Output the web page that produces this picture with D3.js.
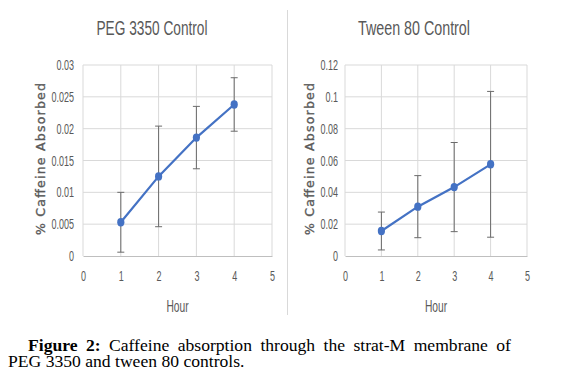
<!DOCTYPE html>
<html><head><meta charset="utf-8">
<script src="https://cdn.jsdelivr.net/npm/d3@7/dist/d3.min.js"></script>
<style>body{margin:0;background:#fff}svg{display:block}</style>
</head><body>
<svg id="c" width="569" height="384"></svg>
<script>
const hours = [1, 2, 3, 4];
const pegValues = [0.0053, 0.0125, 0.0186, 0.0238];
const pegErrors = [0.0047, 0.0079, 0.0049, 0.0042];
const tweenValues = [0.0157, 0.0310, 0.0433, 0.0576];
const tweenErrors = [0.0119, 0.0195, 0.0280, 0.0458];
const xTicks = [0, 1, 2, 3, 4, 5];
const pegYTicks = [0, 0.005, 0.01, 0.015, 0.02, 0.025, 0.03];
const pegYLabels = ["0", "0.005", "0.01", "0.015", "0.02", "0.025", "0.03"];
const tweenYTicks = [0, 0.02, 0.04, 0.06, 0.08, 0.1, 0.12];
const tweenYLabels = ["0", "0.02", "0.04", "0.06", "0.08", "0.1", "0.12"];
const titles = ["PEG 3350 Control", "Tween 80 Control"];
const xTitle = "Hour";
const yTitle = "% Caffeine Absorbed";

const svg = d3.select("#c");
const sans = "'Liberation Sans',Arial,sans-serif";
const blue = "#4472C4";
const grey = "#595959";

function condense(sel, f) {
  sel.each(function () {
    const w = this.getComputedTextLength();
    d3.select(this).attr("textLength", w * f).attr("lengthAdjust", "spacingAndGlyphs");
  });
}

function panel(cfg) {
  const x = d3.scaleLinear().domain([0, 5]).range([cfg.left, cfg.right]);
  const y = d3.scaleLinear().domain([0, cfg.ymax]).range([256, 65]);
  const g = svg.append("g");
  g.selectAll(".hg").data(cfg.yTicks.slice(1)).join("line")
    .attr("x1", cfg.left).attr("x2", cfg.right)
    .attr("y1", d => y(d)).attr("y2", d => y(d))
    .attr("stroke", "#d9d9d9").attr("stroke-width", 1);
  g.selectAll(".vg").data(xTicks).join("line")
    .attr("x1", d => x(d)).attr("x2", d => x(d))
    .attr("y1", 65).attr("y2", 256)
    .attr("stroke", "#d9d9d9").attr("stroke-width", 1);
  const xa = g.append("g").attr("transform", "translate(0,256)")
    .call(d3.axisBottom(x).tickValues(xTicks).tickSize(0).tickPadding(15).tickFormat(d3.format("d")));
  xa.select(".domain").attr("stroke", "#bfbfbf");
  xa.selectAll("text").attr("fill", grey).attr("font-size", 14.5).attr("font-family", sans);
  condense(xa.selectAll("text"), 0.62);
  const ya = g.append("g").attr("transform", `translate(${cfg.left},0)`)
    .call(d3.axisLeft(y).tickValues(cfg.yTicks).tickSize(0).tickPadding(cfg.pad).tickFormat((d, i) => cfg.yLabels[i]));
  ya.select(".domain").remove();
  ya.selectAll("text").attr("fill", grey).attr("font-size", 14.5).attr("font-family", sans);
  condense(ya.selectAll("text"), 0.62);
  const eb = g.selectAll(".eb").data(cfg.values.map((v, i) => ({h: hours[i], v, e: cfg.errors[i]}))).join("g");
  eb.append("line").attr("x1", d => x(d.h)).attr("x2", d => x(d.h))
    .attr("y1", d => y(d.v + d.e)).attr("y2", d => y(d.v - d.e))
    .attr("stroke", "#6b6b6b").attr("stroke-width", 1);
  [1, -1].forEach(s => {
    eb.append("line").attr("x1", d => x(d.h) - 3.5).attr("x2", d => x(d.h) + 3.5)
      .attr("y1", d => y(d.v + s * d.e)).attr("y2", d => y(d.v + s * d.e))
      .attr("stroke", "#6b6b6b").attr("stroke-width", 1);
  });
  g.append("path").datum(cfg.values)
    .attr("d", d3.line().x((d, i) => x(hours[i])).y(d => y(d)))
    .attr("fill", "none").attr("stroke", blue).attr("stroke-width", 2.2);
  g.selectAll(".pt").data(cfg.values).join("ellipse")
    .attr("cx", (d, i) => x(hours[i])).attr("cy", d => y(d))
    .attr("rx", 3.6).attr("ry", 4.2).attr("fill", blue);
  g.append("text").attr("x", cfg.titleX).attr("y", 35).attr("text-anchor", "middle")
    .attr("font-family", sans).attr("font-size", 20).attr("fill", grey)
    .attr("textLength", cfg.titleLen).attr("lengthAdjust", "spacingAndGlyphs").text(cfg.title);
  const ht = g.append("text").attr("x", (cfg.left + cfg.right) / 2).attr("y", 311.5).attr("text-anchor", "middle")
    .attr("font-family", sans).attr("font-size", 16).attr("fill", grey).text(xTitle);
  condense(ht, 0.64);
  g.append("text").attr("transform", `translate(${cfg.yTitleX},159) rotate(-90)`).attr("text-anchor", "middle")
    .attr("font-family", "'DejaVu Sans',sans-serif").attr("font-size", 12.5)
    .attr("fill", grey).attr("stroke", grey).attr("stroke-width", 0.35)
    .attr("textLength", 152).attr("lengthAdjust", "spacing").text(yTitle);
}

panel({left: 83, right: 272, ymax: 0.03, yTicks: pegYTicks, yLabels: pegYLabels, pad: 9,
  values: pegValues, errors: pegErrors, title: titles[0], titleX: 152, titleLen: 111, yTitleX: 45});
panel({left: 345, right: 527, ymax: 0.12, yTicks: tweenYTicks, yLabels: tweenYLabels, pad: 7,
  values: tweenValues, errors: tweenErrors, title: titles[1], titleX: 414, titleLen: 112, yTitleX: 314});

svg.append("line").attr("x1", 287.5).attr("x2", 287.5).attr("y1", 10).attr("y2", 315)
  .attr("stroke", "#d9d9d9").attr("stroke-width", 1);

// caption, first line justified via word-spacing
const capFont = "'Liberation Serif','Times New Roman',serif";
const c1 = svg.append("text").attr("x", 28).attr("y", 351).attr("font-family", capFont)
  .attr("font-size", 17.6).attr("fill", "#000");
c1.append("tspan").attr("font-weight", "bold").text("Figure 2:");
c1.append("tspan").text(" Caffeine absorption through the strat-M membrane of");
const natural = c1.node().getComputedTextLength();
c1.attr("word-spacing", (511 - 28 - natural) / 8);
svg.append("text").attr("x", 8).attr("y", 366.5).attr("font-family", capFont).attr("font-size", 17.6)
  .attr("fill", "#000").text("PEG 3350 and tween 80 controls.");
</script>
</body></html>
